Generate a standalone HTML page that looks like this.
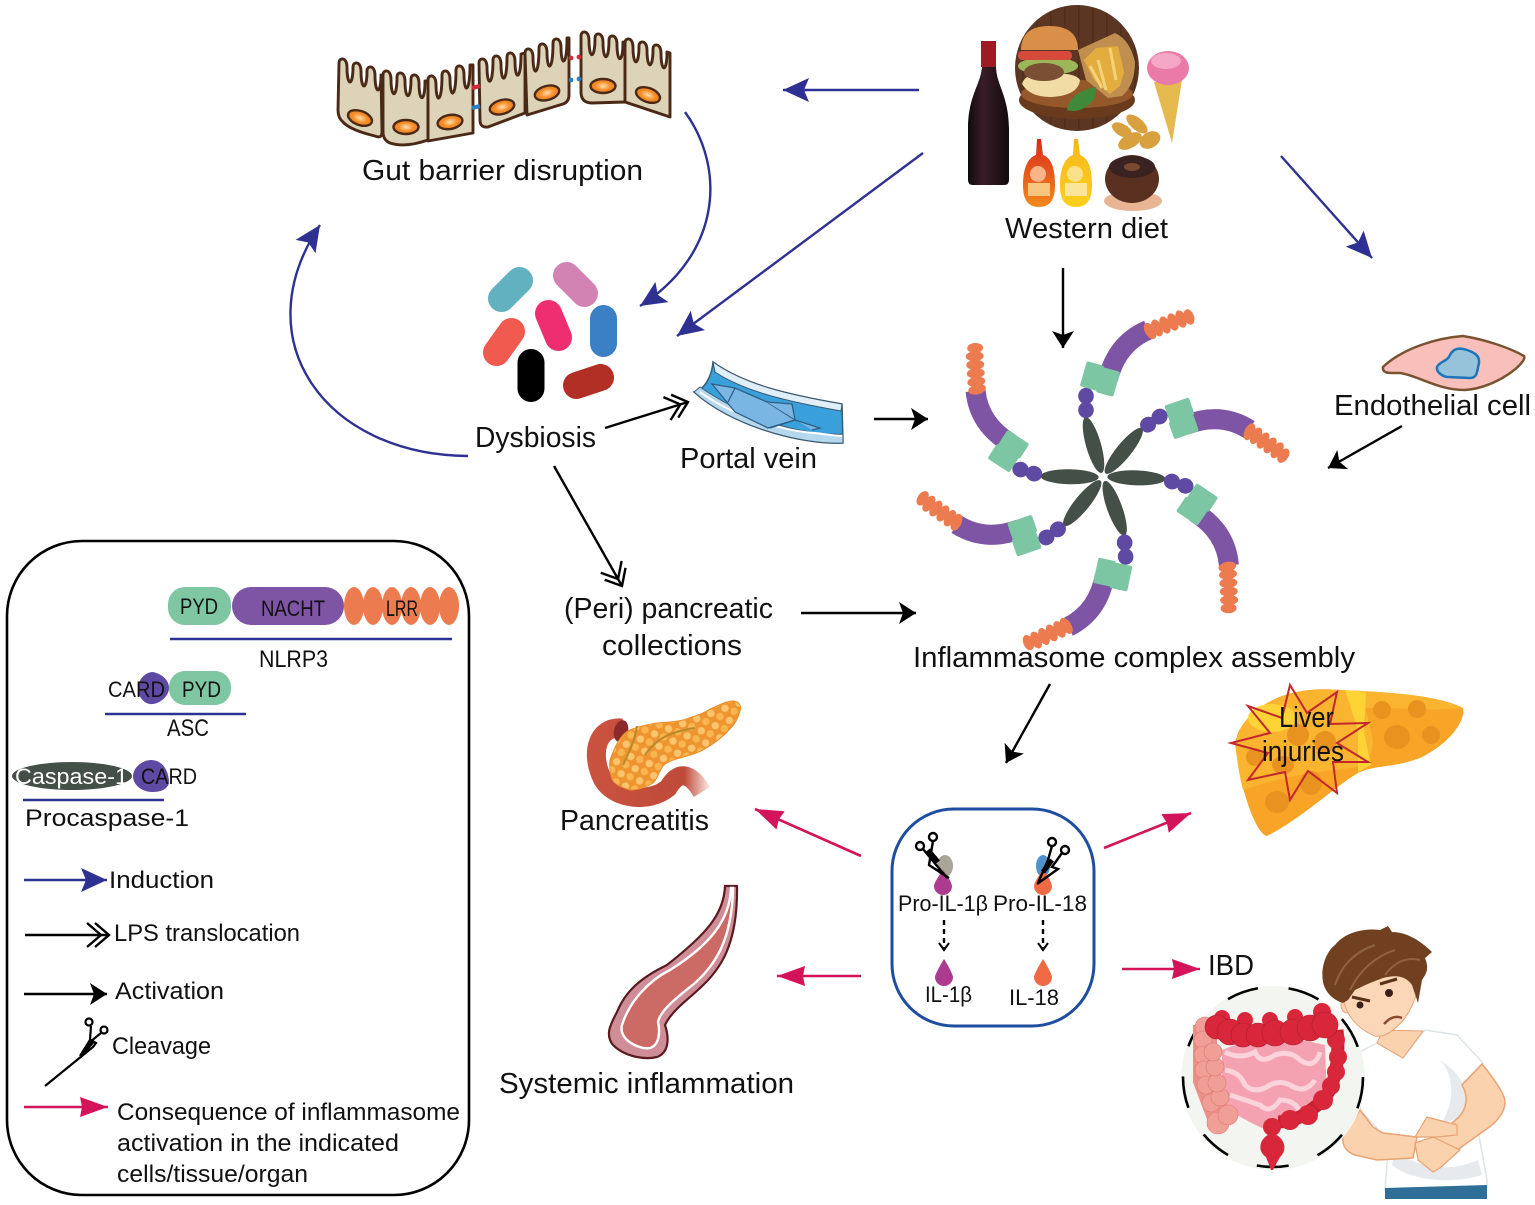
<!DOCTYPE html>
<html><head><meta charset="utf-8"><title>Inflammasome diagram</title>
<style>
html,body{margin:0;padding:0;background:#fff;width:1535px;height:1205px;overflow:hidden}
svg{display:block}
text{font-family:"Liberation Sans",sans-serif;fill:#111;font-size:29px}
.s{font-size:24px}.m{font-size:22px}
</style></head><body>
<svg width="1535" height="1205" viewBox="0 0 1535 1205" xmlns="http://www.w3.org/2000/svg">
<defs>
<marker id="bl" markerUnits="userSpaceOnUse" markerWidth="40" markerHeight="40" refX="26" refY="15" orient="auto"><path d="M0,3 L26,15 L0,27 L5,15 Z" fill="#2e3192"/></marker>
<marker id="bk" markerUnits="userSpaceOnUse" markerWidth="30" markerHeight="30" refX="17" refY="12" orient="auto"><path d="M0,1 L17,12 L0,23 L4,12 Z" fill="#000"/></marker>
<marker id="pk" markerUnits="userSpaceOnUse" markerWidth="40" markerHeight="40" refX="28" refY="12" orient="auto"><path d="M0,2 L28,12 L0,22 L2,12 Z" fill="#d4145a"/></marker>
<marker id="dc" markerUnits="userSpaceOnUse" markerWidth="40" markerHeight="40" refX="24" refY="14" orient="auto"><path d="M2,2 L16,14 L2,26 M10,2 L24,14 L10,26" fill="none" stroke="#000" stroke-width="2.4"/></marker>
<marker id="sm" markerUnits="userSpaceOnUse" markerWidth="16" markerHeight="16" refX="8" refY="6" orient="auto"><path d="M1,1 L8,6 L1,11" fill="none" stroke="#000" stroke-width="2"/></marker>
<pattern id="pan" width="15" height="13" patternUnits="userSpaceOnUse" patternTransform="rotate(-20)"><rect width="15" height="13" fill="#ee9530"/><circle cx="4" cy="3.5" r="3.7" fill="#fbc56e"/><circle cx="11.5" cy="9.5" r="3.7" fill="#f8b550"/></pattern>
<pattern id="wood" width="14" height="60" patternUnits="userSpaceOnUse"><rect width="14" height="60" fill="#5b3623"/><rect width="1.5" height="60" fill="#4f2e1d"/></pattern>
<linearGradient id="bot" x1="0" x2="1"><stop offset="0" stop-color="#0e0a0c"/><stop offset=".35" stop-color="#3a1d28"/><stop offset="1" stop-color="#120b0e"/></linearGradient>
<linearGradient id="ket" x1="0" x2="0" y1="0" y2="1"><stop offset="0" stop-color="#d9291c"/><stop offset="1" stop-color="#f38a1c"/></linearGradient>
<linearGradient id="mus" x1="0" x2="0" y1="0" y2="1"><stop offset="0" stop-color="#f5b71c"/><stop offset="1" stop-color="#fbcf1e"/></linearGradient>
<radialGradient id="nuc"><stop offset="0" stop-color="#ffe0b0"/><stop offset=".6" stop-color="#f58e28"/><stop offset="1" stop-color="#ee7f1f"/></radialGradient>
<linearGradient id="duo" gradientUnits="userSpaceOnUse" x1="590" x2="708" y1="0" y2="0"><stop offset="0" stop-color="#c9533f"/><stop offset=".8" stop-color="#c04a3a"/><stop offset="1" stop-color="#f7e0da"/></linearGradient>
<g id="arm">
 <ellipse cx="-9.5" cy="-32" rx="7.5" ry="29" fill="#434f47" transform="rotate(-16 -9.5 -32)"/>
 <g fill="#5f4aa3"><ellipse cx="-17" cy="-67" rx="7.8" ry="8.2"/><ellipse cx="-17" cy="-81" rx="7.8" ry="8.2"/></g>
 <path d="M5,-98 Q14,-134 45,-147" fill="none" stroke="#7e54a5" stroke-width="20"/>
 <g fill="#7cc6a3"><rect x="-20" y="-114" width="18" height="26" rx="2" transform="rotate(16 -11 -101)"/><rect x="-4" y="-108" width="18" height="26" rx="2" transform="rotate(16 5 -95)"/></g>
 <g fill="#ec7b50">
  <ellipse cx="47" cy="-146" rx="5" ry="9" transform="rotate(-30 47 -146)"/><ellipse cx="54" cy="-149" rx="5" ry="9" transform="rotate(-25 54 -149)"/><ellipse cx="62" cy="-152" rx="5" ry="9" transform="rotate(-22 62 -152)"/><ellipse cx="70" cy="-155" rx="5" ry="9" transform="rotate(-20 70 -155)"/><ellipse cx="78" cy="-158" rx="5" ry="9" transform="rotate(-20 78 -158)"/><ellipse cx="86" cy="-160" rx="5" ry="8" transform="rotate(-20 86 -160)"/>
 </g>
</g>
</defs>
<rect width="1535" height="1205" fill="#fff"/>

<!-- Gut cells -->
<g fill="#dcd3b8" stroke="#4a2a16" stroke-width="2.9" stroke-linejoin="round">
<path d="M339,63 c0,-6 8,-6 8,4 c0,20 6,20 6,0 c0,-6 8,-6 8,4 c0,20 6,20 6,0 c0,-6 8,-6 8,4 c0,20 6,20 6,0 L382,132 Q382,139 375,136 Q350,130 343,122 Q338,118 338,110 Z"/>
<path d="M383,75 c0,-6 8,-6 8,4 c0,20 6,20 6,-2 c0,-6 8,-6 8,4 c0,20 6,20 6,-2 c0,-6 8,-6 8,4 c0,20 6,20 6,-2 L428,81 L428,140 Q405,148 390,143 Q383,140 383,132 Z"/>
<path d="M428,80 c0,-6 8,-6 8,4 c0,20 6,20 6,-9 c0,-6 8,-6 8,4 c0,20 6,20 6,-9 c0,-6 8,-6 8,4 c0,20 6,20 6,-9 L473,65 L473,133 L428,141 Z"/>
<path d="M479,63 c0,-6 8,-6 8,4 c0,20 6,20 6,-7 c0,-6 8,-6 8,4 c0,20 6,20 6,-7 c0,-6 8,-6 8,4 c0,20 6,20 6,-7 L525,53 L525,113 L488,127 Q480,128 480,120 Z"/>
<path d="M525,53 c0,-6 8,-6 8,4 c0,20 6,20 6,-9 c0,-6 8,-6 8,4 c0,20 6,20 6,-9 c0,-6 8,-6 8,4 c0,20 6,20 6,-9 L569,38 L569,95 Q569,102 563,104 L527,115 Z"/>
<path d="M581,36 c0,-6 8,-6 8,4 c0,20 6,20 6,-2 c0,-6 8,-6 8,4 c0,20 6,20 6,-2 c0,-6 8,-6 8,4 c0,20 6,20 6,-2 L625,43 L625,102 L592,103 Q581,103 581,92 Z"/>
<path d="M625,43 c0,-6 8,-6 8,4 c0,20 6,20 6,-1 c0,-6 8,-6 8,4 c0,20 6,20 6,-1 c0,-6 8,-6 8,4 c0,20 6,20 6,-1 L670,53 L670,117 L625,102 Z"/>
</g>
<g fill="url(#nuc)" stroke="#4a2a16" stroke-width="2.4">
<ellipse cx="360" cy="118" rx="12.5" ry="7" transform="rotate(20 360 118)"/><ellipse cx="406" cy="127" rx="12.5" ry="7"/><ellipse cx="450" cy="122" rx="12.5" ry="7" transform="rotate(-10 450 122)"/><ellipse cx="502" cy="107" rx="12.5" ry="7" transform="rotate(-15 502 107)"/><ellipse cx="547" cy="93" rx="12.5" ry="7" transform="rotate(-15 547 93)"/><ellipse cx="603" cy="86" rx="12.5" ry="7"/><ellipse cx="648" cy="95" rx="12.5" ry="7" transform="rotate(20 648 95)"/>
</g>
<path d="M472,88 L480,86" stroke="#d42a3c" stroke-width="4"/><path d="M472,108 L480,106" stroke="#2b7fc4" stroke-width="4"/>
<g fill="#d42a3c"><circle cx="571" cy="58" r="2.4"/><circle cx="579" cy="57" r="2.4"/></g>
<g fill="#2b7fc4"><circle cx="571" cy="80" r="2.4"/><circle cx="579" cy="79" r="2.4"/></g>
<text x="362" y="180" textLength="281" lengthAdjust="spacingAndGlyphs">Gut barrier disruption</text>

<!-- Food -->
<ellipse cx="1077" cy="68" rx="62" ry="63" fill="url(#wood)"/>
<ellipse cx="1077" cy="100" rx="58" ry="19" fill="#6a3a1c"/>
<ellipse cx="1077" cy="94" rx="56" ry="14" fill="#94582a"/>
<path d="M1078,50 L1115,33 Q1130,40 1135,62 Q1135,85 1122,96 L1108,98 L1086,80 Z" fill="#c08f50"/>
<path d="M1084,60 L1096,48 L1118,46 L1124,72 L1120,86 L1110,94 L1094,80Z" fill="#e2ac3f"/>
<path d="M1098,60 L1106,90 M1110,48 L1116,80 M1090,66 L1102,88" stroke="#f5d27a" stroke-width="3"/>
<path d="M1022,84 Q1025,72 1049,74 Q1075,72 1080,80 Q1078,96 1050,97 Q1030,97 1022,84Z" fill="#f0dca4"/>
<ellipse cx="1048" cy="66" rx="30" ry="9" fill="#9bb75a"/>
<ellipse cx="1044" cy="72" rx="20" ry="9" fill="#7a4f33"/>
<rect x="1018" y="51" width="54" height="9" rx="4" fill="#d64a3a"/>
<path d="M1021,50 C1021,30 1036,26 1049,26 C1066,26 1078,32 1078,50 Z" fill="#d98f47"/>
<path d="M1067,110 Q1070,92 1096,87 Q1098,102 1080,110 Q1072,112 1067,110Z" fill="#3f8a3a"/>
<path d="M982,41 h14 v25 C996,85 1009,95 1009,130 V180 q0,5 -5,5 H973 q-5,0 -5,-5 V130 C968,95 981,85 982,66Z" fill="url(#bot)"/>
<path d="M981,41 h15 v26 h-15 z" fill="#9e1b24"/>
<path d="M1154,82 L1182,80 L1172,143 Z" fill="#e6b94e"/>
<ellipse cx="1168" cy="68" rx="21" ry="17" fill="#ea7aa8"/>
<ellipse cx="1166" cy="61" rx="15" ry="8" fill="#f4a8c6"/>
<g fill="#d9a040"><ellipse cx="1122" cy="130" rx="11" ry="6" transform="rotate(30 1122 130)"/><ellipse cx="1137" cy="124" rx="13" ry="6" transform="rotate(40 1137 124)"/><ellipse cx="1130" cy="141" rx="13" ry="7" transform="rotate(-30 1130 141)"/><ellipse cx="1150" cy="140" rx="11" ry="8" transform="rotate(-30 1150 140)"/></g>
<path d="M1037,139 h4 L1043,155 C1052,158 1055,170 1055,185 C1055,200 1050,207 1039,207 C1028,207 1023,200 1023,185 C1023,170 1027,158 1036,155Z" fill="url(#ket)"/>
<circle cx="1038" cy="174" r="8" fill="#f9b48a"/><rect x="1028" y="183" width="22" height="13" fill="#f7c57e"/>
<path d="M1074,139 h4 L1080,155 C1089,158 1092,170 1092,185 C1092,200 1087,207 1076,207 C1065,207 1060,200 1060,185 C1060,170 1064,158 1073,155Z" fill="url(#mus)"/>
<circle cx="1075" cy="174" r="8" fill="#fbe08a"/><rect x="1065" y="183" width="22" height="13" fill="#fbe59a"/>
<ellipse cx="1133" cy="201" rx="29" ry="10" fill="#e8b594"/>
<ellipse cx="1132" cy="179" rx="27" ry="24" fill="#5a3020"/>
<ellipse cx="1132" cy="167" rx="23" ry="11" fill="#3a2220"/>
<ellipse cx="1132" cy="167" rx="8" ry="4" fill="#7a4a30"/>
<text x="1005" y="238" textLength="163" lengthAdjust="spacingAndGlyphs">Western diet</text>

<!-- Blue arrows -->
<g fill="none" stroke="#2e3192" stroke-width="2.4">
<path d="M919,90 L783,90" marker-end="url(#bl)"/>
<path d="M923,153 L677,336" marker-end="url(#bl)"/>
<path d="M1281,156 L1372,258" marker-end="url(#bl)"/>
<path d="M685,112 C727,170 720,255 640,306" marker-end="url(#bl)"/>
<path d="M468,456 C325,455 243,340 320,225" marker-end="url(#bl)"/>
</g>

<!-- Bacteria -->
<g fill="none" stroke-linecap="round" stroke-width="27">
<path d="M501.5,298.5 L519.5,280.5" stroke="#62b1c0"/>
<path d="M566.5,275.5 L584.5,293.5" stroke="#d283b4"/>
<path d="M548.5,313.5 L558.5,337.5" stroke="#ee2e71"/>
<path d="M603.5,318.5 L603.5,343.5" stroke="#3b7fc4"/>
<path d="M496.5,352.5 L511.5,331.5" stroke="#f05a4f"/>
<path d="M531,362.5 L531,388.5" stroke="#000"/>
<path d="M576.5,385.5 L600.5,377.5" stroke="#b22f26"/>
</g>
<text x="475" y="447" textLength="121" lengthAdjust="spacingAndGlyphs">Dysbiosis</text>

<!-- Portal vein -->
<path d="M713,362 C745,385 790,395 842,404 L843,443 C800,445 730,425 694,392 C705,390 712,375 713,362Z" fill="#39a0dc" stroke="#3c5a70" stroke-width="1.5"/>
<path d="M694,392 C730,425 800,445 843,443 L843,434 C800,436 745,418 700,387Z" fill="#b6d8ef" stroke="#3c5a70" stroke-width="1"/>
<path d="M700,392 C735,418 790,432 815,433 C825,434 835,436 842,436" fill="none" stroke="#fff" stroke-width="2"/>
<path d="M713,362 C745,385 790,395 842,404 L841,411 C790,402 745,392 715,372Z" fill="#e0eff7" stroke="#3c5a70" stroke-width="1"/>
<path d="M712,384 L735,388 L767,402 L795,420 L768,428 L735,412 Z M735,388 L728,402" fill="#7ab6e4" stroke="#2f5f83" stroke-width="1.3"/>
<path d="M767,402 L792,404 L795,420 L820,428 L812,430 M795,420 L770,428" fill="#7ab6e4" stroke="#2f5f83" stroke-width="1.3"/>
<text x="680" y="468" textLength="137" lengthAdjust="spacingAndGlyphs">Portal vein</text>

<!-- Black arrows -->
<g fill="none" stroke="#000" stroke-width="2.4">
<path d="M1063,268 L1063,348" marker-end="url(#bk)"/>
<path d="M605,428 L688,402" marker-end="url(#dc)"/>
<path d="M874,419 L928,419" marker-end="url(#bk)"/>
<path d="M1402,426 L1328,468" marker-end="url(#bk)"/>
<path d="M554,466 L622,586" marker-end="url(#dc)"/>
<path d="M801,613 L916,613" marker-end="url(#bk)"/>
<path d="M1050,684 L1006,763" marker-end="url(#bk)"/>
</g>

<!-- Inflammasome -->
<g transform="translate(1103,477)">
<use href="#arm"/>
<use href="#arm" transform="rotate(55)"/>
<use href="#arm" transform="rotate(108)"/>
<use href="#arm" transform="rotate(176)"/>
<use href="#arm" transform="rotate(235)"/>
<use href="#arm" transform="rotate(287)"/>
</g>
<text x="913" y="667" textLength="442" lengthAdjust="spacingAndGlyphs">Inflammasome complex assembly</text>

<!-- Endothelial -->
<path d="M1383,367 C1403,348 1437,338 1463,336 C1487,340 1510,348 1524,356 C1528,362 1497,388 1465,390 C1437,390 1417,375 1400,373 C1390,373 1382,374 1383,367Z" fill="#f9c0bb" stroke="#7a5230" stroke-width="2.5"/>
<path d="M1437,367 C1440,361 1447,362 1450,355 C1453,349 1458,347 1467,350 C1473,352 1480,355 1479,363 C1477,370 1478,378 1470,378 L1447,377 C1442,376 1436,372 1437,367Z" fill="#96c3da" stroke="#1b75bc" stroke-width="2.5"/>
<text x="1334" y="415" textLength="197" lengthAdjust="spacingAndGlyphs">Endothelial cell</text>

<text x="564" y="618" textLength="209" lengthAdjust="spacingAndGlyphs">(Peri) pancreatic</text>
<text x="602" y="655" textLength="140" lengthAdjust="spacingAndGlyphs">collections</text>

<!-- Liver -->
<path d="M1235,742 C1247,705 1287,685 1340,690 C1387,692 1437,695 1463,708 C1466,718 1453,742 1420,758 C1393,768 1377,765 1360,772 C1340,782 1303,818 1267,836 C1257,835 1240,792 1235,742Z" fill="#f8a427"/>
<path d="M1237,735 C1250,705 1287,687 1340,690 C1387,692 1437,695 1463,708 C1420,712 1390,706 1365,708 C1372,735 1378,745 1365,765 C1350,770 1300,770 1243,790 C1238,770 1235,750 1237,735Z" fill="#fbb42f"/>
<path d="M1345,690 L1366,692 L1364,732 L1371,765 L1358,772 L1358,730Z" fill="#fdd335"/>
<ellipse cx="1272" cy="718" rx="24" ry="14" fill="#fdd335"/>
<g fill="#e8931f"><ellipse cx="1382" cy="710" rx="9" ry="9"/><ellipse cx="1417" cy="709" rx="9" ry="9"/><ellipse cx="1397" cy="737" rx="13" ry="12"/><ellipse cx="1431" cy="735" rx="9" ry="9"/><ellipse cx="1298" cy="735" rx="11" ry="11"/><ellipse cx="1255" cy="757" rx="9" ry="9"/><ellipse cx="1283" cy="765" rx="11" ry="9"/><ellipse cx="1311" cy="783" rx="11" ry="12"/><ellipse cx="1277" cy="802" rx="12" ry="11"/><ellipse cx="1325" cy="742" rx="11" ry="11"/></g>
<polygon points="1290,685 1307,713 1337,692 1330,724 1368,723 1337,743 1368,762 1333,762 1337,793 1308,771 1290,800 1285,772 1248,780 1268,753 1231,743 1270,733 1248,706 1282,718" fill="none" stroke="#c1272d" stroke-width="2"/>
<text x="1279" y="727" textLength="55" lengthAdjust="spacingAndGlyphs">Liver</text>
<text x="1262" y="761" textLength="82" lengthAdjust="spacingAndGlyphs">injuries</text>

<!-- Pancreas -->
<path d="M622,728 C596,726 590,755 603,780 C615,800 650,803 668,788 C680,768 692,775 702,792" fill="none" stroke="url(#duo)" stroke-width="19"/>
<ellipse cx="621" cy="731" rx="7" ry="11" fill="#8a2a2a" transform="rotate(15 621 731)"/>
<path d="M610,760 C615,745 622,733 630,730 C640,726 650,724 657,723 C670,722 675,722 683,720 C695,716 703,714 710,709 C720,705 725,701 733,701 C739,701 742,706 740,711 C738,719 735,724 730,729 C722,738 712,745 703,750 C695,754 687,756 680,758 C672,760 667,762 663,766 C658,774 657,779 653,783 C645,788 637,790 630,790 C620,787 614,784 612,779 C610,773 609,767 610,760Z" fill="url(#pan)" stroke="#e98f2c"/>
<path d="M623,765 C630,750 635,740 637,726 M645,755 C655,740 668,732 695,728" fill="none" stroke="#b98a2a" stroke-width="2"/>
<text x="560" y="830" textLength="149" lengthAdjust="spacingAndGlyphs">Pancreatitis</text>

<!-- Systemic tissue -->
<path d="M725,886 C724,915 705,935 667,965 C640,978 625,992 617,1012 C610,1025 605,1035 613,1045 C625,1057 645,1060 657,1057 C668,1053 670,1040 665,1025 C672,1010 690,998 700,988 C720,970 738,945 737,886Z" fill="#cf8d97" stroke="#5a1a1f" stroke-width="2.2"/>
<path d="M731,888 C730,920 710,945 670,970 C650,980 630,1000 622,1025 C618,1040 640,1050 650,1048 C660,1045 660,1030 658,1022 C660,1010 680,995 695,983 C715,965 732,940 733,888Z" fill="#cc6a66" stroke="#fff" stroke-width="2.4"/>
<text x="499" y="1093" textLength="295" lengthAdjust="spacingAndGlyphs">Systemic inflammation</text>

<!-- IL box -->
<rect x="892" y="809" width="202" height="217" rx="62" fill="#fff" stroke="#1f4ea1" stroke-width="3"/>
<ellipse cx="945" cy="866" rx="8" ry="11" fill="#a9a597"/>
<path d="M943,870 C949,878 952,884 952,886 A9,9 0 0 1 934,886 C934,883 938,877 943,870Z" fill="#ac3b8f"/>
<path d="M944,959 C950,968 953,976 953,977 A9,9 0 0 1 935,977 C935,975 939,967 944,959Z" fill="#ac3b8f"/>
<ellipse cx="1043" cy="866" rx="7" ry="11" fill="#4f92cd"/>
<path d="M1043,869 C1049,877 1052,884 1052,886 A9,9 0 0 1 1034,886 C1034,883 1038,877 1043,869Z" fill="#ee6a45"/>
<path d="M1043,959 C1049,968 1052,976 1052,977 A9,9 0 0 1 1034,977 C1034,975 1038,967 1043,959Z" fill="#ee6a45"/>
<g fill="none" stroke="#000" stroke-width="2.4">
<circle cx="920" cy="846" r="4"/><circle cx="933" cy="837" r="4"/>
<path d="M923,849 L947,878 M933,841 L929,865 L949,878"/>
<path d="M928,850 L938,862" stroke-width="5"/>
<circle cx="1052" cy="842" r="4"/><circle cx="1065" cy="850" r="4"/>
<path d="M1052,846 L1048,860 L1038,883 M1062,853 L1052,867 L1058,869 L1037,884"/>
<path d="M1052,860 L1043,872" stroke-width="5"/>
<path d="M944,920 L944,950" stroke-dasharray="5 4" marker-end="url(#sm)"/>
<path d="M1043,920 L1043,950" stroke-dasharray="5 4" marker-end="url(#sm)"/>
</g>
<text class="m" x="898" y="911" textLength="90" lengthAdjust="spacingAndGlyphs">Pro-IL-1β</text>
<text class="m" x="993" y="911" textLength="94" lengthAdjust="spacingAndGlyphs">Pro-IL-18</text>
<text class="m" x="925" y="1002" textLength="47" lengthAdjust="spacingAndGlyphs">IL-1β</text>
<text class="m" x="1009" y="1005" textLength="50" lengthAdjust="spacingAndGlyphs">IL-18</text>

<!-- Pink arrows -->
<g fill="none" stroke="#d4145a" stroke-width="2.6">
<path d="M861,856 L755,809" marker-end="url(#pk)"/>
<path d="M1104,848 L1191,813" marker-end="url(#pk)"/>
<path d="M861,976 L777,976" marker-end="url(#pk)"/>
<path d="M1122,969 L1200,969" marker-end="url(#pk)"/>
</g>
<text x="1208" y="975" textLength="46" lengthAdjust="spacingAndGlyphs">IBD</text>

<!-- Boy -->
<path d="M1360,1052 L1377,1043 L1403,1058 L1425,1030 L1457,1035 L1483,1063 L1463,1083 C1470,1095 1474,1105 1477,1125 L1487,1180 L1487,1188 L1385,1190 L1388,1153 L1376,1127 L1360,1110Z" fill="#fff" stroke="#dfe3e5" stroke-width="1.5"/>
<path d="M1440,1060 C1465,1075 1472,1100 1465,1115 L1440,1125 C1455,1105 1455,1075 1440,1060Z M1395,1150 C1420,1170 1450,1172 1478,1160 L1482,1175 C1450,1185 1410,1180 1392,1165Z" fill="#e7eaec"/>
<path d="M1383,1030 L1423,1031 L1403,1058 L1377,1043Z" fill="#fad2ae" stroke="#e8a373"/>
<path d="M1462,1085 L1482,1064 C1495,1080 1505,1095 1505,1102 C1505,1112 1497,1122 1488,1128 L1460,1148 L1438,1165 L1425,1145 L1458,1118 C1468,1108 1468,1095 1462,1085Z" fill="#fad2ae" stroke="#e8a373" stroke-width="1.5"/>
<path d="M1360,1110 L1343,1137 C1342,1147 1347,1152 1355,1155 L1377,1160 L1413,1158 L1417,1137 L1383,1133 L1373,1127Z" fill="#fad2ae" stroke="#e8a373" stroke-width="1.5"/>
<path d="M1415,1137 L1427,1117 L1457,1125 L1457,1135 L1437,1137Z" fill="#fad2ae" stroke="#e8a373" stroke-width="1.2"/>
<path d="M1415,1143 L1433,1137 L1460,1150 L1440,1168 L1433,1172 L1418,1160Z" fill="#fad2ae" stroke="#e8a373" stroke-width="1.2"/>
<path d="M1385,1188 L1487,1185 L1487,1199 L1385,1199Z" fill="#2f6f97"/>
<ellipse cx="1413" cy="984" rx="6" ry="10" fill="#fbd7b8" stroke="#e8a373"/>
<ellipse cx="1347" cy="1005" rx="6" ry="8" fill="#fbd7b8" stroke="#e8a373"/>
<path d="M1344,1000 C1345,1012 1355,1028 1375,1036 C1385,1038 1395,1030 1405,1018 C1412,1008 1418,995 1420,975 L1395,965 L1350,985 Z" fill="#fbd7b8" stroke="#e8a373"/>
<path d="M1323,982 C1320,965 1328,950 1335,945 C1345,932 1365,928 1380,930 L1388,926 L1392,932 C1410,932 1425,945 1432,952 L1425,958 C1430,970 1425,975 1422,980 L1418,1003 L1412,985 C1405,975 1395,975 1383,978 C1372,982 1365,985 1355,990 L1348,1000 L1343,1003 C1333,1000 1325,992 1323,982Z" fill="#704020"/>
<path d="M1335,985 Q1345,955 1375,945 M1350,990 Q1365,960 1395,950 M1385,975 Q1400,955 1420,960" fill="none" stroke="#8f6242" stroke-width="2"/>
<ellipse cx="1360" cy="1005" rx="3.5" ry="3.5" fill="#3a2018"/><ellipse cx="1389" cy="993" rx="4" ry="4" fill="#3a2018"/>
<path d="M1352,997 L1370,1001 M1380,984 L1397,979" stroke="#5a3018" stroke-width="3"/>
<path d="M1384,1024 Q1393,1014 1402,1018" fill="none" stroke="#8a4a30" stroke-width="2.5"/>

<!-- Colon -->
<circle cx="1273" cy="1078" r="92" fill="#f3f6f0"/>
<circle cx="1273" cy="1077" r="90" fill="none" stroke="#000" stroke-width="2.6" stroke-dasharray="32 30.8"/>
<path d="M1222,1050 Q1270,1030 1325,1045 L1327,1100 Q1310,1115 1285,1122 L1262,1128 Q1240,1118 1222,1105 Z" fill="#f4a1b2"/>
<g fill="none" stroke="#fcd3da" stroke-width="5">
<path d="M1225,1052 Q1240,1060 1255,1052 Q1260,1065 1275,1055 Q1290,1050 1300,1060 Q1315,1070 1320,1052"/>
<path d="M1225,1070 Q1240,1072 1245,1085 Q1255,1095 1270,1085 Q1280,1080 1290,1085 Q1305,1095 1315,1080"/>
<path d="M1230,1095 Q1245,1100 1260,1105 Q1270,1115 1280,1100 Q1295,1100 1300,1112"/>
</g>
<path d="M1205,1025 L1205,1080 L1222,1125" fill="none" stroke="#eb9188" stroke-width="24"/>
<g fill="#ef9f96" stroke="#e07a74" stroke-width=".6"><circle cx="1205" cy="1027" r="10"/><circle cx="1203" cy="1040" r="9"/><circle cx="1203" cy="1055" r="9"/><circle cx="1204" cy="1070" r="9"/><circle cx="1206" cy="1085" r="9"/><circle cx="1211" cy="1103" r="9"/><circle cx="1218" cy="1123" r="11"/><circle cx="1228" cy="1115" r="10"/><circle cx="1220" cy="1097" r="9"/><circle cx="1217" cy="1083" r="9"/><circle cx="1215" cy="1067" r="9"/><circle cx="1213" cy="1052" r="9"/></g>
<path d="M1337,1030 C1340,1060 1335,1090 1320,1103 C1305,1115 1295,1122 1278,1122" fill="none" stroke="#c8202f" stroke-width="13"/>
<g fill="#d8273a"><circle cx="1336" cy="1040" r="9"/><circle cx="1338" cy="1057" r="9"/><circle cx="1336" cy="1072" r="9"/><circle cx="1331" cy="1086" r="9"/><circle cx="1323" cy="1100" r="10"/><circle cx="1308" cy="1115" r="10"/><circle cx="1290" cy="1120" r="10"/></g>
<g fill="#d8273a"><circle cx="1222" cy="1018" r="8"/><circle cx="1245" cy="1020" r="8"/><circle cx="1270" cy="1020" r="8"/><circle cx="1295" cy="1017" r="8"/><circle cx="1322" cy="1012" r="9"/></g>
<g fill="#d8273a" stroke="#b01c2e" stroke-width=".6"><circle cx="1217" cy="1027" r="12"/><circle cx="1230" cy="1032" r="13"/><circle cx="1243" cy="1035" r="12"/><circle cx="1258" cy="1035" r="12"/><circle cx="1275" cy="1033" r="13"/><circle cx="1293" cy="1032" r="13"/><circle cx="1310" cy="1028" r="13"/><circle cx="1325" cy="1025" r="13"/></g>
<circle cx="1272" cy="1127" r="9" fill="#d8273a"/>
<path d="M1272,1133 C1285,1137 1288,1150 1280,1157 L1273,1170 L1271,1170 L1266,1157 C1256,1150 1260,1137 1272,1133Z" fill="#d8273a"/>

<!-- Legend box -->
<rect x="7" y="541" width="462" height="654" rx="75" fill="none" stroke="#000" stroke-width="2.6"/>
<rect x="168" y="587" width="63" height="38" rx="17" fill="#7fc6a3"/>
<rect x="232" y="587" width="112" height="38" rx="19" fill="#7e54a5"/>
<g fill="#ec7b50"><ellipse cx="354" cy="606" rx="10" ry="19"/><ellipse cx="373" cy="606" rx="10" ry="19"/><ellipse cx="392" cy="606" rx="10" ry="19"/><ellipse cx="411" cy="606" rx="10" ry="19"/><ellipse cx="430" cy="606" rx="10" ry="19"/><ellipse cx="449" cy="606" rx="10" ry="19"/></g>
<text class="m" x="180" y="614" textLength="38" lengthAdjust="spacingAndGlyphs">PYD</text>
<text class="m" x="261" y="616" textLength="64" lengthAdjust="spacingAndGlyphs">NACHT</text>
<text class="m" x="386" y="616" textLength="32" lengthAdjust="spacingAndGlyphs">LRR</text>
<path d="M170,639 H452 M105,714 H246 M23,800 H164" stroke="#2e3192" stroke-width="2.4"/>
<text class="s" x="259" y="667" textLength="69" lengthAdjust="spacingAndGlyphs">NLRP3</text>
<path d="M153,672 C165,675 169,682 169,688 C169,697 158,705 150,704 C143,703 138,696 138,688 C138,680 145,672 153,672Z" fill="#5f4aa3"/>
<rect x="169" y="671" width="62" height="34" rx="16" fill="#7fc6a3"/>
<text class="m" x="108" y="697" textLength="57" lengthAdjust="spacingAndGlyphs">CARD</text>
<text class="m" x="182" y="697" textLength="39" lengthAdjust="spacingAndGlyphs">PYD</text>
<text class="s" x="167" y="736" textLength="42" lengthAdjust="spacingAndGlyphs">ASC</text>
<ellipse cx="72" cy="776" rx="60" ry="14" fill="#434f47"/>
<path d="M151,760 C162,760 169,770 169,783 C167,790 160,792 152,792 C142,792 133,785 133,776 C133,768 142,760 151,760Z" fill="#5f4aa3"/>
<text class="m" x="15" y="784" textLength="113" lengthAdjust="spacingAndGlyphs" style="fill:#fff">Caspase-1</text>
<text class="m" x="141" y="784" textLength="56" lengthAdjust="spacingAndGlyphs">CARD</text>
<text class="s" x="25" y="826" textLength="164" lengthAdjust="spacingAndGlyphs">Procaspase-1</text>

<path d="M24,880 L107,880" stroke="#2e3192" stroke-width="2.4" marker-end="url(#bl)"/>
<text class="s" x="109" y="888" textLength="105" lengthAdjust="spacingAndGlyphs">Induction</text>
<path d="M25,935 L109,935" stroke="#000" stroke-width="2.4" marker-end="url(#dc)"/>
<text class="s" x="114" y="941" textLength="186" lengthAdjust="spacingAndGlyphs">LPS translocation</text>
<path d="M24,994 L107,994" stroke="#000" stroke-width="2.4" marker-end="url(#bk)"/>
<text class="s" x="115" y="999" textLength="109" lengthAdjust="spacingAndGlyphs">Activation</text>
<g fill="none" stroke="#000" stroke-width="2.2">
<circle cx="89" cy="1022" r="3.5"/><circle cx="104" cy="1030" r="3.5"/>
<path d="M45,1086 L93,1047 L96,1043 L91,1040 M91,1026 L90,1040 L80,1056 M101,1033 L90,1042"/>
</g>
<path d="M90,1038 L80,1056 L88,1050 L95,1042Z" fill="#000"/>
<text class="s" x="112" y="1054" textLength="99" lengthAdjust="spacingAndGlyphs">Cleavage</text>
<path d="M24,1107 L108,1107" stroke="#d4145a" stroke-width="2.6" marker-end="url(#pk)"/>
<text class="s" x="117" y="1120" textLength="343" lengthAdjust="spacingAndGlyphs">Consequence of inflammasome</text>
<text class="s" x="117" y="1151" textLength="282" lengthAdjust="spacingAndGlyphs">activation in the indicated</text>
<text class="s" x="117" y="1182" textLength="191" lengthAdjust="spacingAndGlyphs">cells/tissue/organ</text>
</svg>
</body></html>
